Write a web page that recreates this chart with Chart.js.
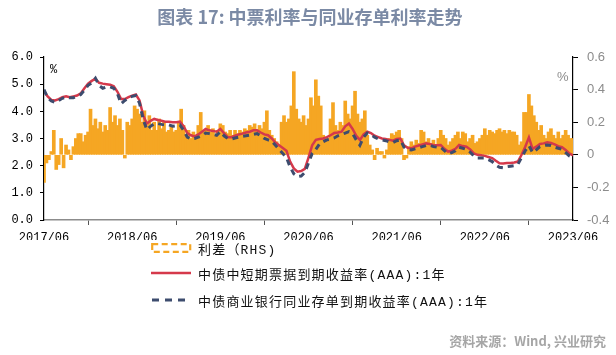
<!DOCTYPE html>
<html>
<head>
<meta charset="utf-8">
<script src="https://cdn.jsdelivr.net/npm/chart.js@4.4.1/dist/chart.umd.min.js"></script>
<style>
  html, body { margin: 0; padding: 0; background: #fff; }
  #wrap { position: relative; width: 616px; height: 355px; overflow: hidden; }
  #c { position: absolute; left: 0; top: 0; }
  #title { position: absolute; left: 0; top: 5px; width: 620px; text-align: center;
    font: bold 18px "Noto Sans CJK SC", sans-serif; line-height: 22px; color: #7b8aa5; }
  .unit { position: absolute; line-height: 16px; }
  #uL { left: 50px; top: 63px; font: 12px "Liberation Mono", monospace; color: #000; }
  #uR { left: 557px; top: 69px; font: 13px "Liberation Sans", sans-serif; color: #8c8c8c; }
  .lg { position: absolute; left: 151px; height: 20px; display: flex; align-items: center;
    font: 13px "Liberation Mono", "Noto Sans CJK SC", monospace; letter-spacing: 1.2px; color: #111; white-space: nowrap; }
  .lg svg { margin-right: 6px; flex: none; }
  #source { position: absolute; right: 10px; top: 332px; font: bold 13px "Noto Sans CJK SC", sans-serif;
    color: #a6a6a6; line-height: 18px; }
</style>
</head>
<body>
<div id="wrap">
  <canvas id="c" width="616" height="355"></canvas>
  <div id="title">图表 17: 中票利率与同业存单利率走势</div>
  <div class="unit" id="uL">%</div>
  <div class="unit" id="uR">%</div>
  <div id="legend"></div>
  <div id="source">资料来源：Wind, 兴业研究</div>
</div>
<script>
// ---- tick labels (x axis, yearly from 2017/06) ----
const tickLabels = ['2017/06','2018/06','2019/06','2020/06','2021/06','2022/06','2023/06'];

// ---- series names ----
const seriesNames = ['利差（RHS)', '中债中短期票据到期收益率(AAA):1年', '中债商业银行同业存单到期收益率(AAA):1年'];

// ---- 中债中短期票据到期收益率(AAA):1年, %, two readings per month from 2017/06 ----
const mtnYield = [
4.75,4.55, 4.42,4.40, 4.45,4.52, 4.55,4.52, 4.55,4.58, 4.66,4.85,
5.02,5.12, 5.20,5.05, 5.02,5.00, 4.98,4.92, 4.72,4.45, 4.45,4.52,
4.58,4.62, 4.40,3.85, 3.55,3.65, 3.72,3.68, 3.65,3.62, 3.62,3.60,
3.60,3.62, 3.45,3.20, 3.12,3.08, 3.15,3.25, 3.35,3.30, 3.28,3.25,
3.35,3.20, 3.05,3.05, 3.10,3.15, 3.18,3.22, 3.25,3.30, 3.30,3.22,
3.15,3.12, 3.00,2.85, 2.75,2.65, 2.55,2.15, 1.90,1.78, 1.80,1.88,
2.30,2.75, 2.95,2.98, 3.00,3.05, 3.12,3.20, 3.22,3.25, 3.45,3.55,
3.35,3.10, 2.95,3.15, 3.25,3.20, 3.10,3.05, 3.00,2.98, 2.95,2.92,
2.98,3.00, 2.75,2.66, 2.64,2.70, 2.74,2.78, 2.82,2.80, 2.76,2.75,
2.76,2.62, 2.52,2.55, 2.62,2.76, 2.72,2.70, 2.60,2.45, 2.40,2.38,
2.36,2.32, 2.28,2.18, 2.09,2.08, 2.10,2.10, 2.12,2.15, 2.40,2.70,
3.04,2.62, 2.70,2.80, 2.82,2.86, 2.84,2.78, 2.72,2.68, 2.58,2.45,
2.38
];

// ---- 中债商业银行同业存单到期收益率(AAA):1年, %, two readings per month from 2017/06 ----
const ncdYield = [
4.80,4.50, 4.38,4.33, 4.40,4.48, 4.52,4.50, 4.50,4.55, 4.62,4.78,
4.96,5.05, 5.22,4.95, 4.85,4.90, 4.90,4.85, 4.65,4.28, 4.40,4.50,
4.55,4.58, 4.30,3.70, 3.32,3.45, 3.55,3.55, 3.52,3.50, 3.50,3.45,
3.47,3.50, 3.30,3.05, 2.98,3.00, 3.05,3.10, 3.20,3.18, 3.15,3.12,
3.25,3.10, 3.00,2.98, 3.02,3.05, 3.08,3.10, 3.12,3.15, 3.18,3.10,
3.00,2.95, 2.90,2.75, 2.60,2.45, 2.30,1.95, 1.70,1.60, 1.62,1.75,
2.10,2.45, 2.60,2.80, 2.88,2.95, 2.98,3.02, 3.10,3.15, 3.20,3.25,
3.18,2.95, 2.75,3.05, 3.20,3.15, 3.05,2.98, 2.95,2.92, 2.88,2.85,
2.92,2.95, 2.68,2.60, 2.58,2.62, 2.66,2.70, 2.74,2.75, 2.70,2.68,
2.68,2.55, 2.44,2.48, 2.55,2.68, 2.64,2.60, 2.50,2.36, 2.28,2.28,
2.28,2.22, 2.15,2.02, 1.94,1.92, 1.96,1.98, 2.00,2.05, 2.30,2.55,
2.74,2.48, 2.58,2.70, 2.74,2.76, 2.74,2.68, 2.64,2.60, 2.48,2.36,
2.30
];

// ---- 利差 (RHS), %, three readings per month from 2017/06 ----
const spreadValues = [
-0.17,-0.05,-0.03,  0.02,0.15,-0.09,  -0.06,0.10,-0.08,  0.06,0.03,-0.03,
0.05,0.10,0.13,  0.13,0.08,0.12,  0.14,0.28,0.18,  0.22,0.16,0.20,
0.14,0.18,0.15,  0.29,0.20,0.24,  0.18,0.22,0.15,  -0.02,0.20,0.18,
0.22,0.30,0.28,  0.25,0.20,0.27,  0.18,0.24,0.15,  0.20,0.15,0.22,
0.16,0.20,0.14,  0.15,0.18,0.14,  0.15,0.20,0.28,  0.18,0.12,0.15,
0.10,0.14,0.12,  0.18,0.26,0.15,  0.15,0.18,0.14,  0.16,0.12,0.15,
0.19,0.18,0.14,  0.13,0.15,0.12,  0.15,0.13,0.15,  0.14,0.16,0.15,
0.18,0.17,0.19,  0.15,0.18,0.16,  0.20,0.27,0.15,  0.12,0.10,0.08,
0.06,0.20,0.24,  0.20,0.22,0.30,  0.51,0.28,0.22,  0.20,0.24,0.18,
0.22,0.35,0.30,  0.46,0.36,0.30,  0.12,0.08,0.10,  0.22,0.32,0.18,
0.15,0.20,0.18,  0.33,0.25,0.22,  0.30,0.39,0.25,  0.20,0.22,0.27,
0.12,0.06,0.03,  -0.03,0.04,0.02,  0.02,-0.02,0.03,  0.10,0.13,0.12,
0.14,0.15,0.10,  -0.03,-0.02,0.05,  0.08,0.06,0.09,  0.07,0.15,0.14,
0.08,0.10,0.07,  0.09,0.06,0.10,  0.15,0.12,0.10,  0.06,0.08,0.10,
0.12,0.14,0.10,  0.14,0.13,0.08,  0.10,0.12,0.07,  0.08,0.10,0.12,
0.16,0.12,0.15,  0.14,0.13,0.15,  0.16,0.14,0.15,  0.13,0.15,0.14,
0.14,0.12,0.06,  0.08,0.26,0.26,  0.37,0.30,0.24,  0.20,0.15,0.18,
0.12,0.10,0.14,  0.16,0.12,0.10,  0.14,0.10,0.12,  0.15,0.12,0.10,
0.10
];

const colors = { spread: '#F5A623', mtn: '#D5394B', ncd: '#3D4C6E' };

// month offsets since 2017/06
const lineSeries = arr => arr.map((v, i) => ({ x: i / 2, y: v }));
const barSeries = arr => arr.map((v, i) => ({ x: i / 3, y: v }));

// ---- legend (HTML) ----
const legend = document.getElementById('legend');
const legendRows = [
  { name: seriesNames[0], top: 238,
    svg: `<svg width="41" height="11"><rect x="1.2" y="1.2" width="38" height="7.6" fill="none" stroke="${colors.spread}" stroke-width="2.2" stroke-dasharray="6 3.5"/></svg>` },
  { name: seriesNames[1], top: 263,
    svg: `<svg width="41" height="6"><line x1="0" y1="3" x2="40" y2="3" stroke="${colors.mtn}" stroke-width="2.6"/></svg>` },
  { name: seriesNames[2], top: 290,
    svg: `<svg width="41" height="6"><line x1="1" y1="3" x2="40" y2="3" stroke="${colors.ncd}" stroke-width="3" stroke-dasharray="7 6"/></svg>` }
];
legendRows.forEach(r => {
  const d = document.createElement('div');
  d.className = 'lg';
  d.style.top = r.top + 'px';
  d.innerHTML = r.svg + '<span>' + r.name + '</span>';
  legend.appendChild(d);
});

// ---- chart ----
new Chart(document.getElementById('c').getContext('2d'), {
  type: 'line',
  data: {
    datasets: [
      { type: 'line', label: seriesNames[2], data: lineSeries(ncdYield), yAxisID: 'y',
        borderColor: colors.ncd, borderWidth: 3, borderDash: [6, 5], pointRadius: 0, tension: 0, order: 0 },
      { type: 'line', label: seriesNames[1], data: lineSeries(mtnYield), yAxisID: 'y',
        borderColor: colors.mtn, borderWidth: 2.5, pointRadius: 0, tension: 0, order: 1 },
      { type: 'bar', label: seriesNames[0], data: barSeries(spreadValues), yAxisID: 'y2',
        backgroundColor: colors.spread, borderWidth: 0, barThickness: 3, order: 2 }
    ]
  },
  options: {
    responsive: false,
    animation: false,
    events: [],
    layout: { padding: { top: 57, bottom: 115, left: 0, right: 0 } },
    plugins: { legend: { display: false }, tooltip: { enabled: false }, title: { display: false } },
    scales: {
      x: {
        type: 'linear', min: 0, max: 72, offset: false,
        afterBuildTicks: s => { s.ticks = tickLabels.map((_, i) => ({ value: i * 12 })); },
        ticks: { callback: v => tickLabels[Math.round(v / 12)], autoSkip: false, maxRotation: 0,
          font: { family: 'Liberation Mono', size: 12 }, color: '#000', padding: 6 },
        grid: { display: true, drawOnChartArea: false, drawTicks: true, tickLength: 5, tickColor: '#555' },
        border: { display: true, color: '#8c8c8c', width: 1.5 },
        afterFit: s => { s.height = 20; }
      },
      y: {
        position: 'left', min: 0, max: 6,
        ticks: { stepSize: 1, callback: v => Number(v).toFixed(1),
          font: { family: 'Liberation Mono', size: 12 }, color: '#000', padding: 7 },
        grid: { drawOnChartArea: false, drawTicks: true, tickLength: 4, tickColor: '#000' },
        border: { display: true, color: '#000', width: 1.2 },
        afterFit: s => { s.width = 44; }
      },
      y2: {
        position: 'right', min: -0.4, max: 0.6,
        ticks: { stepSize: 0.2, callback: v => String(Math.round(v * 10) / 10),
          font: { family: 'Liberation Sans', size: 13 }, color: '#8c8c8c', padding: 9 },
        grid: { drawOnChartArea: false, drawTicks: true, tickLength: 5, tickColor: '#000' },
        border: { display: true, color: '#000', width: 1.2 },
        afterFit: s => { s.width = 43; }
      }
    }
  }
});
</script>
</body>
</html>
